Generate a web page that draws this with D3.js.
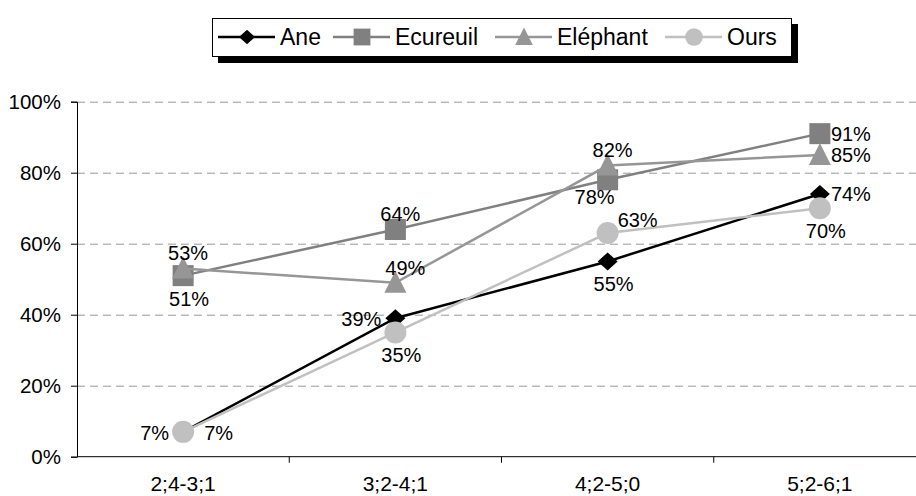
<!DOCTYPE html>
<html>
<head>
<meta charset="utf-8">
<script src="https://cdn.jsdelivr.net/npm/d3@7"></script>
<style>
  body { margin: 0; background: #fff; }
  svg { display: block; font-family: "Liberation Sans", Arial, sans-serif; }
  .grid line { stroke: #999; stroke-dasharray: 8,5; }
  .grid path { display: none; }
</style>
</head>
<body>
<svg width="916" height="496"></svg>
<script>
const categories = ['2;4-3;1', '3;2-4;1', '4;2-5;0', '5;2-6;1'];
const seriesNames = ['Ane', 'Ecureuil', 'Eléphant', 'Ours'];
const ane = [7, 39, 55, 74];
const ecureuil = [51, 64, 78, 91];
const elephant = [53, 49, 82, 85];
const ours = [7, 35, 63, 70];
const yTicks = [0, 20, 40, 60, 80, 100];

// where each data label sits relative to its point
const anePos = ['left', 'left', 'below', 'right'];
const ecureuilPos = ['below', 'above', 'belowLeft', 'right'];
const elephantPos = ['above', 'aboveShift', 'above', 'right'];
const oursPos = ['farRight', 'below', 'aboveRight', 'below'];

const colors = ['#000000', '#808080', '#969696', '#c0c0c0'];
const shapes = ['diamond', 'square', 'triangle', 'circle'];

const series = [ane, ecureuil, elephant, ours].map((vals, i) => ({
  name: seriesNames[i],
  values: vals,
  pos: [anePos, ecureuilPos, elephantPos, oursPos][i],
  color: colors[i],
  shape: shapes[i]
}));

const svg = d3.select('svg');

const x = d3.scaleBand().domain(categories).range([77, 926]);
const y = d3.scaleLinear().domain([0, 100]).range([456.7, 101.7]);
const cx = c => x(c) + x.bandwidth() / 2;

// dashed grid
svg.append('g')
  .attr('class', 'grid')
  .attr('transform', 'translate(77,0)')
  .call(d3.axisLeft(y).tickValues(yTicks.slice(1)).tickSize(-860).tickFormat(''));

// y axis
const yAxis = svg.append('g')
  .attr('transform', 'translate(77,0)')
  .call(d3.axisLeft(y).tickValues(yTicks).tickSize(6).tickPadding(10).tickFormat(d => d + '%'));
yAxis.selectAll('text').attr('font-size', 20.5).attr('font-family', 'Liberation Sans, Arial, sans-serif').attr('fill', '#000');
yAxis.selectAll('line, path').attr('stroke', '#000');

// x axis, ticks between categories
const xAxis = svg.append('g').attr('transform', 'translate(0,456.7)');
xAxis.append('line').attr('x1', 77).attr('x2', 926).attr('stroke', '#000');
xAxis.selectAll('line.tk')
  .data(categories)
  .enter().append('line')
  .attr('class', 'tk')
  .attr('x1', d => x(d) + x.bandwidth()).attr('x2', d => x(d) + x.bandwidth())
  .attr('y1', 0).attr('y2', 6)
  .attr('stroke', '#000');
xAxis.selectAll('text')
  .data(categories)
  .enter().append('text')
  .attr('x', d => cx(d))
  .attr('y', 34)
  .attr('text-anchor', 'middle')
  .attr('font-size', 21)
  .text(d => d);

function marker(g, shape, color, px, py, k) {
  k = k || 1;
  if (shape === 'diamond') {
    g.append('path').attr('d', `M${px},${py - 9 * k}L${px + 10 * k},${py}L${px},${py + 9 * k}L${px - 10 * k},${py}Z`).attr('fill', color);
  } else if (shape === 'square') {
    g.append('rect').attr('x', px - 10.5 * k).attr('y', py - 10.5 * k).attr('width', 21 * k).attr('height', 21 * k).attr('fill', color);
  } else if (shape === 'triangle') {
    g.append('path').attr('d', `M${px},${py - 12 * k}L${px + 11 * k},${py + 10 * k}L${px - 11 * k},${py + 10 * k}Z`).attr('fill', color);
  } else {
    g.append('circle').attr('cx', px).attr('cy', py).attr('r', 11 * k).attr('fill', color);
  }
}

const line = d3.line().x((d, i) => cx(categories[i])).y(d => y(d));

series.forEach(s => {
  const g = svg.append('g');
  g.append('path')
    .attr('d', line(s.values))
    .attr('fill', 'none')
    .attr('stroke', s.color)
    .attr('stroke-width', 2.5);
  s.values.forEach((v, i) => marker(g, s.shape, s.color, cx(categories[i]), y(v)));
});

// data labels
const offsets = {
  left: { dx: -14, dy: 8, anchor: 'end' },
  right: { dx: 11, dy: 7, anchor: 'start' },
  farRight: { dx: 21, dy: 8, anchor: 'start' },
  above: { dx: 5, dy: -9, anchor: 'middle' },
  aboveShift: { dx: 10, dy: -8, anchor: 'middle' },
  aboveRight: { dx: 10, dy: -6, anchor: 'start' },
  below: { dx: 6, dy: 30, anchor: 'middle' },
  belowLeft: { dx: -13, dy: 24, anchor: 'middle' }
};
series.forEach(s => {
  s.values.forEach((v, i) => {
    const o = offsets[s.pos[i]];
    svg.append('text')
      .attr('x', cx(categories[i]) + o.dx)
      .attr('y', y(v) + o.dy)
      .attr('text-anchor', o.anchor)
      .attr('font-size', 20)
      .text(v + '%');
  });
});

// legend
const leg = svg.append('g');
leg.append('rect').attr('x', 218).attr('y', 24).attr('width', 580).attr('height', 39).attr('fill', '#000');
leg.append('rect').attr('x', 212.5).attr('y', 18.5).attr('width', 579).attr('height', 38).attr('fill', '#fff').attr('stroke', '#000');
const legX = [218, 333, 495, 665];
series.forEach((s, i) => {
  const lx = legX[i];
  leg.append('line').attr('x1', lx).attr('x2', lx + 57).attr('y1', 37).attr('y2', 37)
    .attr('stroke', s.color).attr('stroke-width', 2.5);
  marker(leg, s.shape, s.color, lx + 29, 37, 0.8);
  leg.append('text').attr('x', lx + 62).attr('y', 45).attr('font-size', 23).text(s.name);
});
</script>
</body>
</html>
